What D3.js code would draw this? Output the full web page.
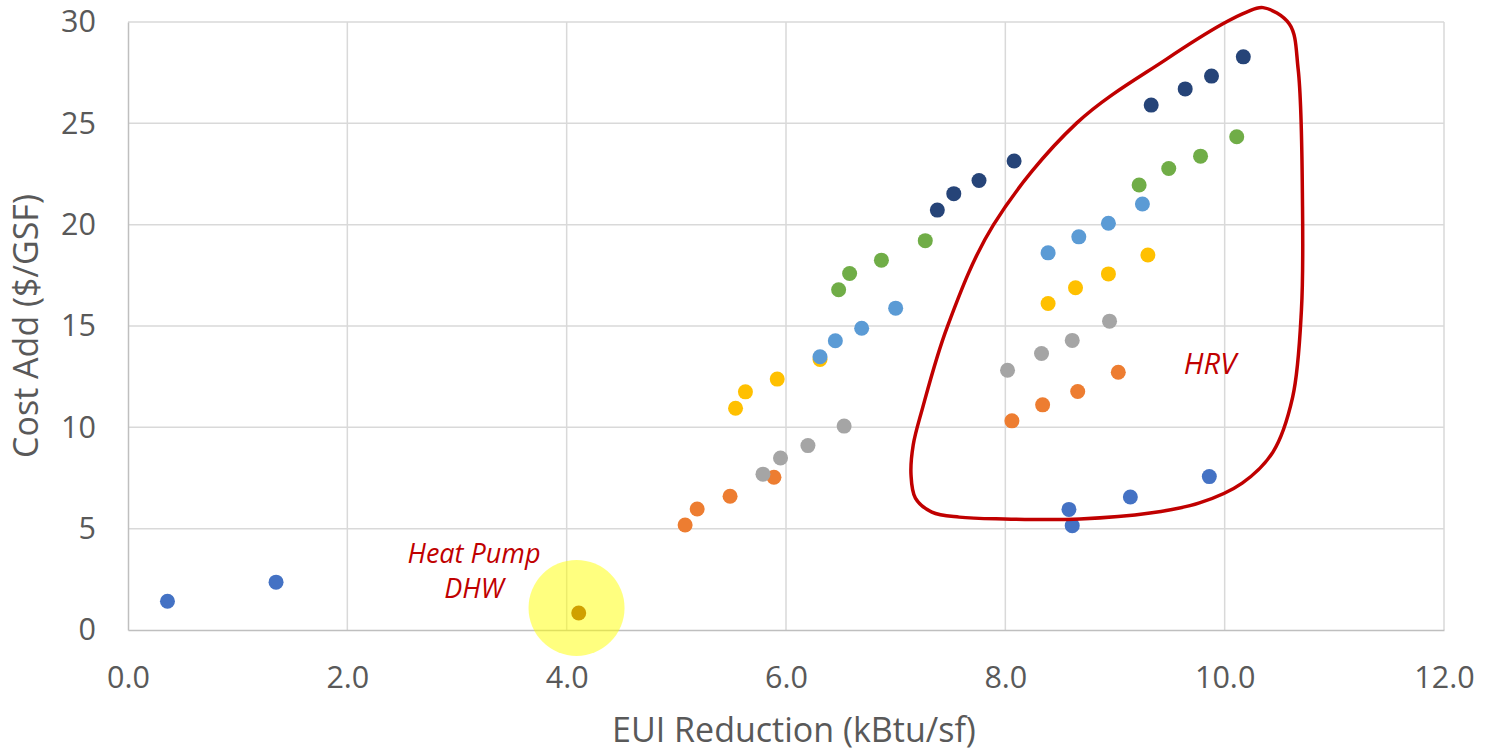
<!DOCTYPE html>
<html lang="en">
<head>
    <meta charset="UTF-8">
    <title>EUI Reduction vs Cost Add</title>
    <script src="https://d3js.org/d3.v7.min.js"></script>
    <style>
        body {
            margin: 0;
            background: #fff;
            font-family: "Open Sans", sans-serif;
        }
        .tick text {
            fill: #595959;
        }
    </style>
</head>
<body>
    <svg id="chart" width="1489" height="751"></svg>
    <script>
        // values: [EUI reduction, cost add]
        const seriesBlue = [[0.36, 1.42], [1.35, 2.36], [8.58, 5.95], [8.61, 5.15], [9.14, 6.56], [9.86, 7.57]];
        const seriesOrange = [[5.08, 5.18], [5.19, 5.97], [5.49, 6.60], [5.89, 7.54], [8.06, 10.32], [8.34, 11.11], [8.66, 11.77], [9.03, 12.72]];
        const seriesGray = [[5.79, 7.69], [5.95, 8.49], [6.20, 9.10], [6.53, 10.06], [8.02, 12.82], [8.33, 13.64], [8.61, 14.29], [8.95, 15.24]];
        const seriesYellow = [[5.54, 10.94], [5.63, 11.75], [5.92, 12.38], [6.31, 13.35], [8.39, 16.11], [8.64, 16.89], [8.94, 17.57], [9.30, 18.50]];
        const seriesLightBlue = [[6.31, 13.48], [6.45, 14.27], [6.69, 14.89], [7.00, 15.88], [8.39, 18.61], [8.67, 19.40], [8.94, 20.07], [9.25, 21.02]];
        const seriesGreen = [[6.48, 16.79], [6.58, 17.59], [6.87, 18.25], [7.27, 19.21], [9.22, 21.96], [9.49, 22.77], [9.78, 23.38], [10.11, 24.34]];
        const seriesNavy = [[7.38, 20.72], [7.53, 21.53], [7.76, 22.18], [8.08, 23.14], [9.33, 25.90], [9.64, 26.70], [9.88, 27.33], [10.17, 28.28]];
        const heatPumpPoint = [[4.11, 0.84]];

        const xTicks = [0, 2, 4, 6, 8, 10, 12];
        const yTicks = [0, 5, 10, 15, 20, 25, 30];

        // hand drawn loop round the HRV group, in data units
        const hrvOutline = [
            [10.20, 30.49], [10.35, 30.71], [10.59, 29.90], [10.67, 27.68], [10.71, 20.87],
            [10.70, 15.79], [10.62, 11.49], [10.44, 8.78], [10.16, 7.25], [9.77, 6.27],
            [9.32, 5.77], [8.68, 5.48], [7.99, 5.48], [7.58, 5.57], [7.33, 5.82],
            [7.18, 6.51], [7.14, 7.65], [7.16, 9.13], [7.24, 10.85], [7.47, 14.95],
            [7.89, 19.98], [8.65, 25.01], [9.47, 28.17], [9.98, 29.90]
        ];

        const series = [
            { data: seriesBlue, color: "#4472C4" },
            { data: seriesOrange, color: "#ED7D31" },
            { data: seriesGray, color: "#A5A5A5" },
            { data: seriesYellow, color: "#FFC000" },
            { data: seriesLightBlue, color: "#5B9BD5" },
            { data: seriesGreen, color: "#70AD47" },
            { data: seriesNavy, color: "#264478" }
        ];

        const svg = d3.select("#chart");
        const plotLeft = 128, plotRight = 1444, plotTop = 22, plotBottom = 630;

        const x = d3.scaleLinear().domain([0, 12]).range([plotLeft, plotRight]);
        const y = d3.scaleLinear().domain([0, 30]).range([plotBottom, plotTop]);

        // gridlines
        svg.append("g")
            .selectAll("line")
            .data(xTicks.slice(1))
            .enter()
            .append("line")
            .attr("x1", d => x(d))
            .attr("x2", d => x(d))
            .attr("y1", plotTop)
            .attr("y2", plotBottom)
            .attr("stroke", "#d9d9d9")
            .attr("stroke-width", 1.5);

        svg.append("g")
            .selectAll("line")
            .data(yTicks.slice(1))
            .enter()
            .append("line")
            .attr("x1", plotLeft)
            .attr("x2", plotRight)
            .attr("y1", d => y(d))
            .attr("y2", d => y(d))
            .attr("stroke", "#d9d9d9")
            .attr("stroke-width", 1.5);

        // axes
        const xAxis = svg.append("g")
            .attr("transform", `translate(0, ${plotBottom})`)
            .call(d3.axisBottom(x).tickValues(xTicks).tickFormat(d3.format(".1f")).tickSize(0).tickPadding(36));
        xAxis.select(".domain").attr("stroke", "#bfbfbf").attr("stroke-width", 1.5);
        xAxis.selectAll("text").attr("font-size", "30.5px").attr("font-family", "Open Sans");

        const yAxis = svg.append("g")
            .attr("transform", `translate(${plotLeft}, 0)`)
            .call(d3.axisLeft(y).tickValues(yTicks).tickSize(0).tickPadding(32));
        yAxis.select(".domain").attr("stroke", "#bfbfbf").attr("stroke-width", 1.5);
        yAxis.selectAll("text").attr("font-size", "30.5px").attr("font-family", "Open Sans");

        // axis titles
        svg.append("text")
            .attr("x", 794)
            .attr("y", 742)
            .attr("text-anchor", "middle")
            .attr("fill", "#595959")
            .attr("font-size", "34px")
            .text("EUI Reduction (kBtu/sf)");

        svg.append("text")
            .attr("transform", `translate(38, ${(plotTop + plotBottom) / 2}) rotate(-90)`)
            .attr("text-anchor", "middle")
            .attr("fill", "#595959")
            .attr("font-size", "34px")
            .text("Cost Add ($/GSF)");

        // points
        series.forEach(s => {
            svg.append("g")
                .selectAll("circle")
                .data(s.data)
                .enter()
                .append("circle")
                .attr("cx", d => x(d[0]))
                .attr("cy", d => y(d[1]))
                .attr("r", 7.5)
                .attr("fill", s.color);
        });

        // heat pump highlight
        svg.append("circle")
            .attr("cx", x(4.09))
            .attr("cy", y(1.09))
            .attr("r", 48)
            .attr("fill", "#ffff00")
            .attr("fill-opacity", 0.5);

        svg.append("g")
            .selectAll("circle")
            .data(heatPumpPoint)
            .enter()
            .append("circle")
            .attr("cx", d => x(d[0]))
            .attr("cy", d => y(d[1]))
            .attr("r", 7.5)
            .attr("fill", "#d0a000");

        // HRV loop
        const loop = d3.line()
            .x(d => x(d[0]))
            .y(d => y(d[1]))
            .curve(d3.curveCatmullRomClosed.alpha(0.5));

        svg.append("path")
            .attr("d", loop(hrvOutline))
            .attr("fill", "none")
            .attr("stroke", "#c00000")
            .attr("stroke-width", 3.5);

        // annotations
        const red = "#c00000";
        svg.append("text")
            .attr("x", 1210)
            .attr("y", 374)
            .attr("text-anchor", "middle")
            .attr("fill", red)
            .attr("font-style", "italic")
            .attr("font-size", "29px")
            .text("HRV");

        svg.append("text")
            .attr("x", 474)
            .attr("y", 563)
            .attr("text-anchor", "middle")
            .attr("fill", red)
            .attr("font-style", "italic")
            .attr("font-size", "27px")
            .text("Heat Pump");

        svg.append("text")
            .attr("x", 474)
            .attr("y", 598)
            .attr("text-anchor", "middle")
            .attr("fill", red)
            .attr("font-style", "italic")
            .attr("font-size", "27px")
            .text("DHW");
    </script>
</body>
</html>
